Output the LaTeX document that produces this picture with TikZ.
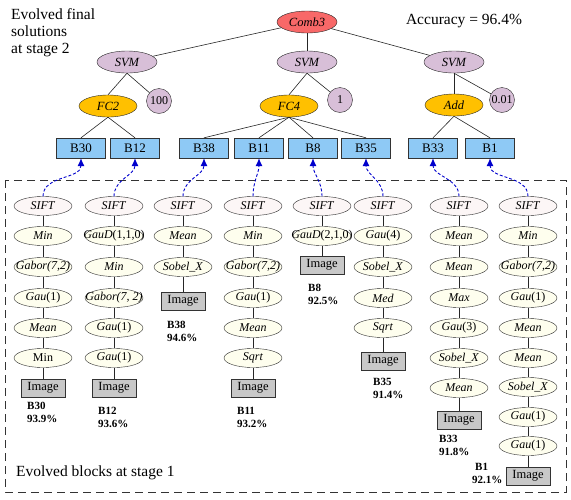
\documentclass[tikz,border=0pt]{standalone}
\usepackage{fontspec}
\setmainfont{Liberation Serif}
\usetikzlibrary{arrows.meta,shapes.geometric}
\definecolor{combred}{HTML}{F86868}
\definecolor{svmc}{HTML}{D8BFD8}
\definecolor{fcc}{HTML}{FFC000}
\definecolor{blkc}{HTML}{8EC9F5}
\definecolor{imgc}{HTML}{C8C8C8}
\definecolor{siftc}{HTML}{FCF6F6}
\definecolor{opc}{HTML}{FEFEEE}
\definecolor{arrc}{HTML}{0000CC}
\newcommand{\fn}[2]{\textit{#1}(#2)}
\tikzset{
  ell/.style={ellipse,draw=black!85,inner sep=0pt,minimum width=58pt,minimum height=19pt,font=\fontsize{12}{13}\selectfont,
    execute at begin node={\hbox to 0pt\bgroup\hss}, execute at end node={\hss\egroup}},
  sift/.style={ell,fill=siftc},
  op/.style={ell,fill=opc},
  img/.style={rectangle,draw=black!80,fill=imgc,minimum width=44pt,minimum height=18pt,inner sep=0pt,font=\fontsize{12.5}{13}\selectfont},
  blk/.style={rectangle,draw=black!80,fill=blkc,minimum width=49pt,minimum height=20pt,inner sep=0pt,font=\fontsize{13}{14}\selectfont},
  topell/.style={ellipse,draw=black!85,inner sep=0pt,minimum width=60pt,minimum height=22pt,font=\fontsize{12.5}{13}\selectfont\itshape,
    execute at begin node={\hbox to 0pt\bgroup\hss}, execute at end node={\hss\egroup}},
  svm/.style={topell,fill=svmc},
  fc/.style={topell,minimum width=58pt,fill=fcc},
  par/.style={circle,draw=black!85,fill=svmc,minimum size=25pt,inner sep=0pt,font=\fontsize{12}{13}\selectfont},
  lbl/.style={anchor=north west,inner sep=0pt,align=left,font=\bfseries\fontsize{11}{13}\selectfont},
  ln/.style={draw=black!85,line width=0.6pt},
  conn/.style={draw=arrc,dash pattern=on 3pt off 2pt,line width=0.9pt,-{Latex[length=8pt,width=7pt]}},
  big/.style={inner sep=0pt,font=\fontsize{15.5}{17}\selectfont},
}
\begin{document}
\begin{tikzpicture}[x=1pt,y=-1pt]
\useasboundingbox (0,0) rectangle (571,499);
% titles
\node[big,anchor=north west,align=left] (ttl) at (11,8) {Evolved final\\solutions\\at stage 2};
\node[big] (acc) at (464,21) {Accuracy = 96.4\%};
% top tree
\node[topell,fill=combred] (comb) at (307,22) {Comb3};
\node[svm] (s1) at (127,62) {SVM};
\node[svm] (s2) at (307,62) {SVM};
\node[svm] (s3) at (454,62) {SVM};
\node[fc] (fc2) at (108,106) {FC2};
\node[fc] (fc4) at (289,106) {FC4};
\node[fc] (add) at (454,105) {Add};
\node[par] (p1) at (159,101) {100};
\node[par] (p2) at (340,100) {1};
\node[par] (p3) at (502,100) {0.01};
\node[blk] (b30) at (81,148) {B30};
\node[blk] (b12) at (135,148) {B12};
\node[blk] (b38) at (204,148) {B38};
\node[blk] (b11) at (259,148) {B11};
\node[blk] (b8) at (313,148) {B8};
\node[blk] (b35) at (366,148) {B35};
\node[blk] (b33) at (433,148) {B33};
\node[blk] (b1) at (490,148) {B1};
\draw[ln] (comb) -- (s1);
\draw[ln] (comb) -- (s2);
\draw[ln] (comb) -- (s3);
\draw[ln] (s1.south) -- (fc2.north);
\draw[ln] (s1.south) -- (p1);
\draw[ln] (s2.south) -- (fc4.north);
\draw[ln] (s2.south) -- (p2);
\draw[ln] (s3.south) -- (add.north);
\draw[ln] (s3.south) -- (p3);
\draw[ln] (fc2.south) -- (b30.north);
\draw[ln] (fc2.south) -- (b12.north);
\draw[ln] (fc4.south) -- (b38.north);
\draw[ln] (fc4.south) -- (b11.north);
\draw[ln] (fc4.south) -- (b8.north);
\draw[ln] (fc4.south) -- (b35.north);
\draw[ln] (add.south) -- (b33.north);
\draw[ln] (add.south) -- (b1.north);
% dashed frame
\draw[draw=black!80,line width=1pt,dash pattern=on 8pt off 5pt] (5,180) rectangle (566,492);
\node[big,anchor=west] (blt) at (16,473) {Evolved blocks at stage 1};
% column 1 (B30)
\node[sift] (a1) at (43,206) {\textit{SIFT}};
\node[op] (a2) at (43,236) {\textit{Min}};
\node[op] (a3) at (43,267) {\textit{Gabor(7,2)}};
\node[op] (a4) at (43,298) {\fn{Gau}{1}};
\node[op] (a5) at (43,328) {\textit{Mean}};
\node[op] (a6) at (43,358) {Min};
\node[img] (a7) at (43,388) {Image};
\draw[ln] (a1) -- (a2) -- (a3) -- (a4) -- (a5) -- (a6) -- (a7);
\node[lbl] (la) at (27,402) {B30\\93.9\%};
% column 2 (B12)
\node[sift] (c1) at (114,206) {\textit{SIFT}};
\node[op] (c2) at (114,236) {\fn{GauD}{1,1,0}};
\node[op] (c3) at (114,267) {\textit{Min}};
\node[op] (c4) at (114,298) {\textit{Gabor(7, 2)}};
\node[op] (c5) at (114,328) {\fn{Gau}{1}};
\node[op] (c6) at (114,358) {\fn{Gau}{1}};
\node[img] (c7) at (114,388) {Image};
\draw[ln] (c1) -- (c2) -- (c3) -- (c4) -- (c5) -- (c6) -- (c7);
\node[lbl] (lc) at (98,407) {B12\\93.6\%};
% column 3 (B38)
\node[sift] (d1) at (183,206) {\textit{SIFT}};
\node[op] (d2) at (183,236) {\textit{Mean}};
\node[op] (d3) at (183,267) {\textit{Sobel\_X}};
\node[img] (d4) at (183,301) {Image};
\draw[ln] (d1) -- (d2) -- (d3) -- (d4);
\node[lbl] (ld) at (167,321) {B38\\94.6\%};
% column 4 (B11)
\node[sift] (e1) at (253,206) {\textit{SIFT}};
\node[op] (e2) at (253,236) {\textit{Min}};
\node[op] (e3) at (253,267) {\textit{Gabor(7,2)}};
\node[op] (e4) at (253,298) {\fn{Gau}{1}};
\node[op] (e5) at (253,328) {\textit{Mean}};
\node[op] (e6) at (253,358) {\textit{Sqrt}};
\node[img] (e7) at (253,388) {Image};
\draw[ln] (e1) -- (e2) -- (e3) -- (e4) -- (e5) -- (e6) -- (e7);
\node[lbl] (le) at (237,407) {B11\\93.2\%};
% column 5 (B8)
\node[sift] (f1) at (322,206) {\textit{SIFT}};
\node[op] (f2) at (322,236) {\fn{GauD}{2,1,0}};
\node[img] (f3) at (322,265) {Image};
\draw[ln] (f1) -- (f2) -- (f3);
\node[lbl] (lf) at (308,284) {B8\\92.5\%};
% column 6 (B35)
\node[sift] (g1) at (383,206) {\textit{SIFT}};
\node[op] (g2) at (383,236) {\fn{Gau}{4}};
\node[op] (g3) at (383,267) {\textit{Sobel\_X}};
\node[op] (g4) at (383,298) {\textit{Med}};
\node[op] (g5) at (383,328) {\textit{Sqrt}};
\node[img] (g6) at (383,361) {Image};
\draw[ln] (g1) -- (g2) -- (g3) -- (g4) -- (g5) -- (g6);
\node[lbl] (lg) at (373,378) {B35\\91.4\%};
% column 7 (B33)
\node[sift] (h1) at (459,206) {\textit{SIFT}};
\node[op] (h2) at (459,236) {\textit{Mean}};
\node[op] (h3) at (459,267) {\textit{Mean}};
\node[op] (h4) at (459,298) {\textit{Max}};
\node[op] (h5) at (459,328) {\fn{Gau}{3}};
\node[op] (h6) at (459,358) {\textit{Sobel\_X}};
\node[op] (h7) at (459,388) {\textit{Mean}};
\node[img] (h8) at (459,420) {Image};
\draw[ln] (h1) -- (h2) -- (h3) -- (h4) -- (h5) -- (h6) -- (h7) -- (h8);
\node[lbl] (lh) at (439,435) {B33\\91.8\%};
% column 8 (B1)
\node[sift] (k1) at (528,206) {\textit{SIFT}};
\node[op] (k2) at (528,236) {\textit{Min}};
\node[op] (k3) at (528,267) {\textit{Gabor(7,2)}};
\node[op] (k4) at (528,298) {\fn{Gau}{1}};
\node[op] (k5) at (528,328) {\textit{Mean}};
\node[op] (k6) at (528,358) {\textit{Mean}};
\node[op] (k7) at (528,387) {\textit{Sobel\_X}};
\node[op] (k8) at (528,417) {\fn{Gau}{1}};
\node[op] (k9) at (528,446) {\fn{Gau}{1}};
\node[img] (k10) at (528,476) {Image};
\draw[ln] (k1) -- (k2) -- (k3) -- (k4) -- (k5) -- (k6) -- (k7) -- (k8) -- (k9) -- (k10);
\node[lbl] (lk) at (472,463) {\hspace{3pt}B1\\92.1\%};
% connectors
\draw[conn] (a1.north) to[out=90,in=-90] (b30.south);
\draw[conn] (c1.north) to[out=90,in=-90] (b12.south);
\draw[conn] (d1.north) to[out=90,in=-90] (b38.south);
\draw[conn] (e1.north) to[out=90,in=-90] (b11.south);
\draw[conn] (f1.north) to[out=90,in=-90] (b8.south);
\draw[conn] (g1.north) to[out=90,in=-90] (b35.south);
\draw[conn] (h1.north) to[out=90,in=-90] (b33.south);
\draw[conn] (k1.north) to[out=90,in=-90] (b1.south);
\end{tikzpicture}
\end{document}
